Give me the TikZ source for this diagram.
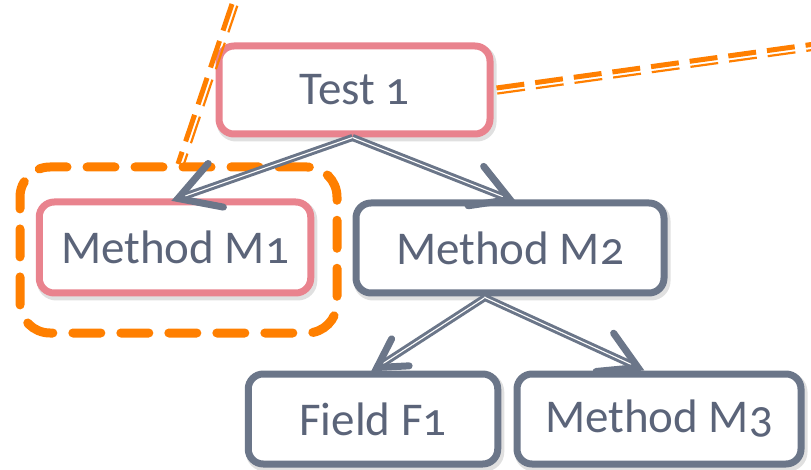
\documentclass[tikz,border=0pt]{standalone}
\usepackage{fontspec}
\setmainfont[Numbers=OldStyle]{Carlito}
\usetikzlibrary{calc}
\definecolor{txtc}{HTML}{5B6479}
\definecolor{grayb}{HTML}{6B7689}
\definecolor{pinkb}{HTML}{E9838E}
\definecolor{orng}{HTML}{FF7F00}
\tikzset{
  box/.style={draw=grayb, line width=7pt, rounded corners=15pt, fill=white,
    text=txtc, font=\fontsize{47}{50}\selectfont, inner sep=0pt,
    preaction={draw=black, draw opacity=0.12, line width=9pt,
      transform canvas={shift={(2pt,-3pt)}}}},
  pinkbox/.style={box, draw=pinkb},
  zoombox/.style={draw=orng, line width=9pt, rounded corners=30pt,
    dash pattern=on 28pt off 20pt, line cap=round, inner sep=0pt},
  link/.style={draw=grayb, line width=3pt, double=white, double distance=1.1pt},
  chev/.style={draw=grayb, line width=7pt, line cap=round, line join=miter},
  calloutthick/.style={draw=orng, line width=5pt, dash pattern=on 28pt off 11pt},
  calloutthin/.style={draw=orng, line width=2.2pt, dash pattern=on 28pt off 11pt},
}
\newcommand{\chevron}[2]{%
  \draw[chev] ($(#1)!0.25!30:(#2)$) -- (#1) -- ($(#1)!0.25!-30:(#2)$);}
\begin{document}
\begin{tikzpicture}[x=1pt,y=-1pt]
\useasboundingbox (0,0) rectangle (811,470);
% callout end points
\coordinate (cl1) at (232,4);
\coordinate (cl2) at (178,164);
\coordinate (cr2) at (815,44);
% boxes
\node[zoombox, minimum width=317pt, minimum height=166pt] (zb) at (178.5,250) {};
\node[pinkbox, minimum width=271pt, minimum height=88pt] (t1) at (354.5,90) {Test 1};
\node[pinkbox, minimum width=271.5pt, minimum height=91pt] (m1) at (175,247.5) {Method M1};
\node[box, minimum width=308pt, minimum height=90pt] (m2) at (510,248) {Method M2};
\node[box, minimum width=249.5pt, minimum height=90pt] (f1) at (373,419) {Field F1};
\node[box, minimum width=284pt, minimum height=90pt] (m3) at (659,419) {Method M3};
% callout lines
\coordinate (cr1) at ($(t1.east)+(3,-2)$);
\draw[calloutthick] (cl1) -- (cl2);
\draw[calloutthin] ($(cl1)!5.6pt!90:(cl2)$) -- ($(cl2)!5.6pt!-90:(cl1)$);
\draw[calloutthick] (cr1) -- (cr2);
\draw[calloutthin] ($(cr1)!5.6pt!-90:(cr2)$) -- ($(cr2)!5.6pt!90:(cr1)$);
% connectors
\coordinate (s1) at ($(t1.south)+(-2,0)$);
\coordinate (e1) at ($(m1.north)+(3,0)$);
\coordinate (e2) at (m2.north);
\coordinate (s2) at ($(m2.south)+(-25,1)$);
\coordinate (e3) at ($(f1.north)+(4,-3)$);
\coordinate (e4) at ($(m3.north)+(-21,-3)$);
\draw[link] (s1) -- ($(e1)!4pt!(s1)$);
\draw[link] (s1) -- ($(e2)!4pt!(s1)$);
\draw[link] (s2) -- ($(e3)!4pt!(s2)$);
\draw[link] (s2) -- ($(e4)!4pt!(s2)$);
\chevron{e1}{s1}
\chevron{e2}{s1}
\chevron{e3}{s2}
\chevron{e4}{s2}
\end{tikzpicture}
\end{document}
